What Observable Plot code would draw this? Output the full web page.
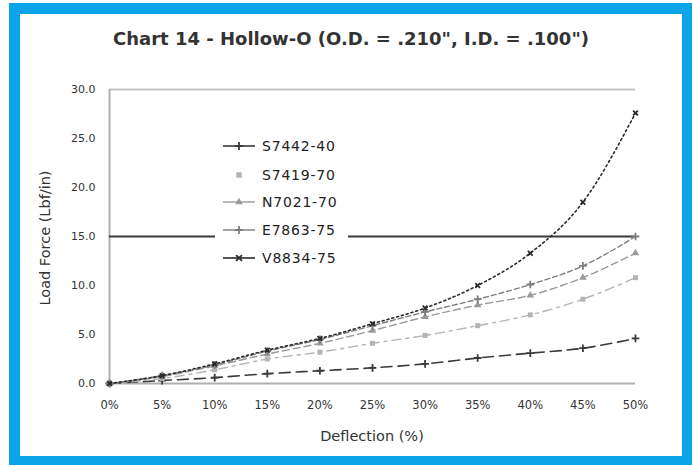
<!DOCTYPE html>
<html>
<head>
<meta charset="utf-8">
<script src="https://cdn.jsdelivr.net/npm/d3@7"></script>
<script src="https://cdn.jsdelivr.net/npm/@observablehq/plot@0.6"></script>
<style>
  html, body { margin: 0; padding: 0; background: #fff; }
  #wrap { position: relative; width: 693px; height: 465px; overflow: hidden; font-family: "DejaVu Sans", Verdana, sans-serif; color: #333; }
  #frame { position: absolute; left: 9px; top: 3px; width: 662px; height: 442px; border: 11px solid #0aa5e8; border-right-width: 10px; border-bottom-width: 10px; }
  #title { position: absolute; left: 0; width: 702px; top: 28px; text-align: center; font-size: 18px; font-weight: bold; color: #333; }
  #ylab { position: absolute; left: 45px; top: 238px; transform: translate(-50%, -50%) rotate(-90deg); font-size: 14.5px; white-space: nowrap; color: #333; }
  #xlab { position: absolute; left: 372px; top: 428px; transform: translateX(-50%); font-size: 14.5px; white-space: nowrap; color: #333; }
  #chart { position: absolute; left: 0; top: 0; }
  #legend { position: absolute; left: 215px; top: 132px; width: 133px; height: 140px; background: #fff; }
  .lg { position: absolute; left: 0; height: 20px; display: flex; align-items: center; font-size: 14px; letter-spacing: 0.8px; color: #222; white-space: nowrap; }
  .lg svg { margin-right: 5px; }
</style>
</head>
<body>
<div id="wrap">
  <div id="frame"></div>
  <div id="title"></div>
  <div id="chart"></div>
  <div id="legend"></div>
  <div id="ylab"></div>
  <div id="xlab"></div>
</div>
<script>
const titleText = "Chart 14 - Hollow-O (O.D. = .210\", I.D. = .100\")";
const yLabel = "Load Force (Lbf/in)";
const xLabel = "Deflection (%)";

const deflection = [0, 5, 10, 15, 20, 25, 30, 35, 40, 45, 50];
const seriesNames = ["S7442-40", "S7419-70", "N7021-70", "E7863-75", "V8834-75"];
const s7442 = [0, 0.3, 0.6, 1.0, 1.3, 1.6, 2.0, 2.6, 3.1, 3.6, 4.6];
const s7419 = [0, 0.5, 1.4, 2.5, 3.2, 4.1, 4.9, 5.9, 7.0, 8.6, 10.8];
const n7021 = [0, 0.7, 1.8, 3.0, 4.1, 5.4, 6.8, 8.0, 9.0, 10.8, 13.3];
const e7863 = [0, 0.8, 1.9, 3.3, 4.5, 5.9, 7.3, 8.6, 10.1, 12.0, 15.0];
const v8834 = [0, 0.8, 2.0, 3.4, 4.6, 6.1, 7.7, 10.0, 13.3, 18.5, 27.6];
const referenceLevel = [15];
const yTicks = [0, 5, 10, 15, 20, 25, 30];
const xTicks = [0, 5, 10, 15, 20, 25, 30, 35, 40, 45, 50];

const seriesValues = [s7442, s7419, n7021, e7863, v8834];
const styles = [
  {stroke: "#3a3a3a", dash: "11,6", symbol: "plus", fill: "#3a3a3a", r: 2.6, sw: 1.6, showLine: true},
  {stroke: "#b4b4b4", dash: "9,5,3,5", symbol: "square", fill: "#b4b4b4", r: 2.8, sw: 1.4, showLine: false},
  {stroke: "#9a9a9a", dash: "7,4", symbol: "triangle", fill: "#9a9a9a", r: 2.8, sw: 1.4, showLine: true},
  {stroke: "#7d7d7d", dash: "5,3", symbol: "plus", fill: "#7d7d7d", r: 2.6, sw: 1.4, showLine: true},
  {stroke: "#2a2a2a", dash: "2,3", symbol: "times", fill: "#2a2a2a", r: 2.3, sw: 1.6, showLine: true}
];

const rows = [];
seriesNames.forEach((name, i) => {
  deflection.forEach((d, j) => rows.push({series: name, idx: i, x: d, y: seriesValues[i][j]}));
});

const marks = [
  Plot.ruleY([0], {stroke: "#b0b0b0", strokeWidth: 2}),
  Plot.ruleY([30], {stroke: "#c4c4c4", strokeWidth: 2}),
  Plot.ruleX([0], {stroke: "#b0b0b0", strokeWidth: 2}),
  Plot.ruleY(referenceLevel, {stroke: "#3a3a3a", strokeWidth: 2.2}),
  Plot.axisY(yTicks, {tickSize: 0, tickPadding: 14, tickFormat: d => d.toFixed(1), fontSize: 11, fill: "#333", label: null}),
  Plot.axisX(xTicks, {tickSize: 0, tickPadding: 17, tickFormat: d => d + "%", fontSize: 11.5, fill: "#333", label: null})
];
seriesNames.forEach((name, i) => {
  const st = styles[i];
  const data = rows.filter(r => r.idx === i);
  marks.push(Plot.line(data, {x: "x", y: "y", stroke: st.stroke, strokeWidth: st.sw, strokeDasharray: st.dash, curve: "monotone-x"}));
  const isStroke = st.symbol === "plus" || st.symbol === "times";
  marks.push(Plot.dot(data, {x: "x", y: "y", symbol: st.symbol, r: st.r,
    fill: isStroke ? "none" : st.fill, stroke: isStroke ? st.stroke : "none", strokeWidth: 1.8}));
});

const chart = Plot.plot({
  width: 693,
  height: 465,
  marginLeft: 109,
  marginRight: 58,
  marginTop: 89,
  marginBottom: 82,
  style: {background: "transparent", fontFamily: "DejaVu Sans, Verdana, sans-serif"},
  x: {domain: [0, 50]},
  y: {domain: [0, 30]},
  marks
});
document.getElementById("chart").appendChild(chart);
document.getElementById("title").textContent = titleText;
document.getElementById("ylab").textContent = yLabel;
document.getElementById("xlab").textContent = xLabel;

// legend
const legend = document.getElementById("legend");
const rowTops = [4, 33, 60, 88, 116];
seriesNames.forEach((name, i) => {
  const st = styles[i];
  const div = document.createElement("div");
  div.className = "lg";
  div.style.top = rowTops[i] + "px";
  div.style.left = "6px";
  const svg = d3.create("svg").attr("width", 36).attr("height", 20);
  if (st.showLine) {
    svg.append("line").attr("x1", 2).attr("x2", 34).attr("y1", 10).attr("y2", 10)
      .attr("stroke", st.stroke).attr("stroke-width", st.sw);
  }
  const sym = d3.symbol().type({
    plus: d3.symbolPlus, square: d3.symbolSquare, triangle: d3.symbolTriangle, times: d3.symbolTimes
  }[st.symbol]).size(st.symbol === "square" ? 30 : 24);
  const isStroke = st.symbol === "plus" || st.symbol === "times";
  svg.append("path").attr("d", sym()).attr("transform", "translate(18,10)")
    .attr("fill", isStroke ? "none" : st.fill).attr("stroke", isStroke ? st.stroke : "none").attr("stroke-width", 1.8);
  div.appendChild(svg.node());
  const span = document.createElement("span");
  span.textContent = name;
  div.appendChild(span);
  legend.appendChild(div);
});
</script>
</body>
</html>
